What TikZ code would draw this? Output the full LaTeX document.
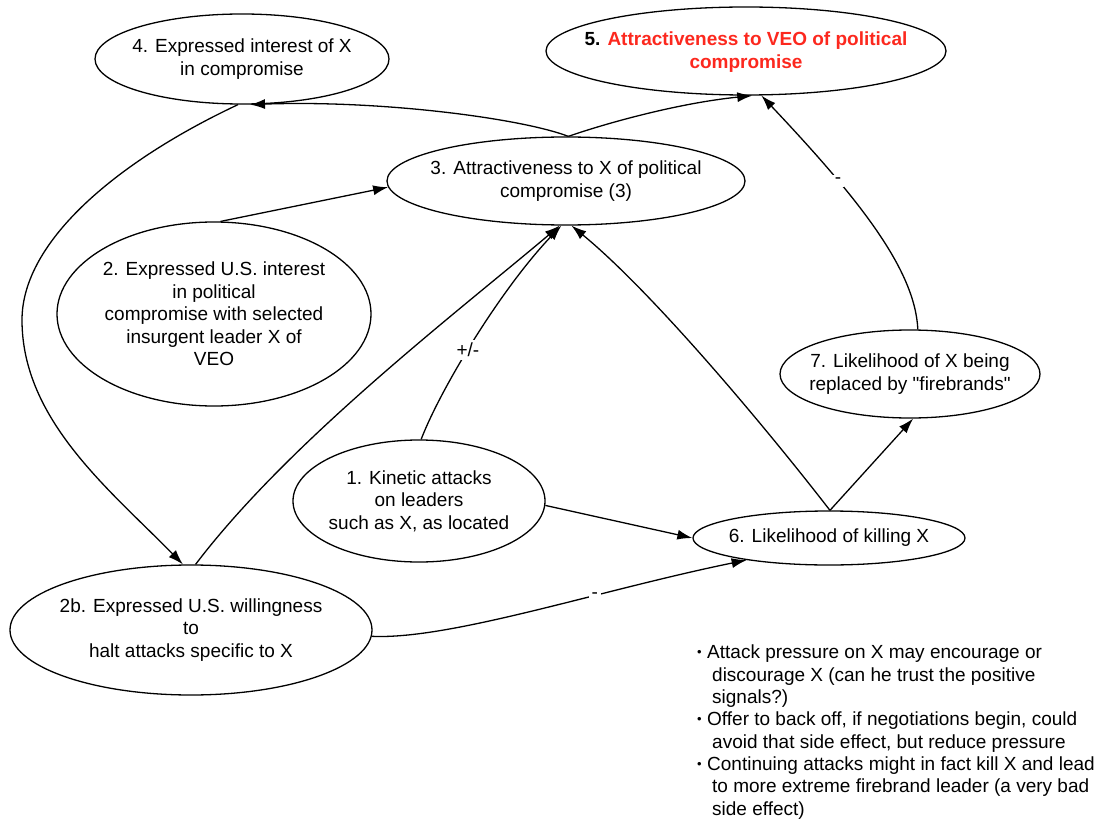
\documentclass[tikz,border=0pt]{standalone}
\usepackage{fontspec}
\setmainfont{Liberation Sans}
\usetikzlibrary{shapes.geometric,arrows.meta}
\definecolor{vred}{RGB}{252,40,30}
\begin{document}
\begin{tikzpicture}[x=1pt,y=-1pt,
  ell/.style={ellipse, draw, line width=1.3pt, inner sep=0pt},
  txt/.style={align=center, inner sep=0pt, font=\fontsize{19}{22.5}\selectfont},
  conn/.style={line width=1.3pt, -{Latex[length=15pt,width=10pt]}},
  lbl/.style={fill=white, inner sep=3pt, font=\fontsize{19}{22}\selectfont}]
\useasboundingbox (0,0) rectangle (1103,821);
% ellipses
\node[ell, minimum width=294pt, minimum height=90pt] (e4) at (242,59) {};
\node[ell, minimum width=400pt, minimum height=88pt] (e5) at (746,51) {};
\node[ell, minimum width=358pt, minimum height=88pt] (e3) at (566,181) {};
\node[ell, minimum width=314pt, minimum height=184pt] (e2) at (214,314) {};
\node[ell, minimum width=252pt, minimum height=122pt] (e1) at (419,501) {};
\node[ell, minimum width=272pt, minimum height=54pt] (e6) at (829,538) {};
\node[ell, minimum width=260pt, minimum height=88pt] (e7) at (910,374) {};
\node[ell, minimum width=362pt, minimum height=130pt] (e2b) at (191,630) {};
% texts
\node[txt] (t4) at (e4) {4. Expressed interest of X\\in compromise};
\node[txt, font=\fontsize{19}{22.5}\selectfont\bfseries] (t5) at (746,52) {5. \textcolor{vred}{Attractiveness to VEO of political}\\\textcolor{vred}{compromise}};
\node[txt] (t3) at (e3) {3. Attractiveness to X of political\\compromise (3)};
\node[txt] (t2) at (e2) {2. Expressed U.S. interest\\in political\\compromise with selected\\insurgent leader X of\\VEO};
\node[txt] (t1) at (e1) {1. Kinetic attacks\\on leaders\\such as X, as located};
\node[txt] (t6) at (e6) {6. Likelihood of killing X};
\node[txt] (t7) at (e7) {7. Likelihood of X being\\replaced by \textquotedbl firebrands\textquotedbl};
\node[txt] (t2b) at (e2b) {2b. Expressed U.S. willingness\\to\\halt attacks specific to X};
% connectors
\draw[conn] (e2.86) -- (e3.182);
\draw[conn] (e3.87) .. controls (520,118) and (380,100) .. (e4.-80);
\draw[conn] (e3.87) .. controls (610,122) and (680,103) .. (e5.-82);
\draw[conn] (e4.-95) .. controls (120,160) and (22,240) .. (22,320)
  .. controls (22,420) and (110,490) .. (e2b.97);
\draw[conn] (e2b.86) .. controls (290,440) and (460,310) .. (e3.-98);
\draw[conn] (e1.88) .. controls (440,390) and (500,290) .. node[lbl, pos=0.45] (l1) {+/-} (e3.-96);
\draw[conn] (e6.88) .. controls (760,420) and (650,290) .. (e3.-83);
\draw[conn] (e6.88) -- (e7.-86);
\draw[conn] (e7.80) .. controls (915,270) and (860,200) .. node[lbl, pos=0.7] (l2) {-} (e5.-71);
\draw[conn] (e1.-2) -- (e6.west);
\draw[conn] (e2b.-2) .. controls (450,640) and (600,590) .. node[lbl, pos=0.65] (l3) {-} (e6.-165);
% notes
\node[anchor=north west, inner sep=0pt, align=left, font=\fontsize{19}{22.3}\selectfont] (notes) at (697,645)
{\makebox[10pt][l]{\raisebox{2pt}{\fontsize{13}{13}\selectfont •}}Attack pressure on X may encourage or\\
\hspace*{15pt}discourage X (can he trust the positive\\
\hspace*{15pt}signals?)\\
\makebox[10pt][l]{\raisebox{2pt}{\fontsize{13}{13}\selectfont •}}Offer to back off, if negotiations begin, could\\
\hspace*{15pt}avoid that side effect, but reduce pressure\\
\makebox[10pt][l]{\raisebox{2pt}{\fontsize{13}{13}\selectfont •}}Continuing attacks might in fact kill X and lead\\
\hspace*{15pt}to more extreme firebrand leader (a very bad\\
\hspace*{15pt}side effect)};
\end{tikzpicture}
\end{document}
